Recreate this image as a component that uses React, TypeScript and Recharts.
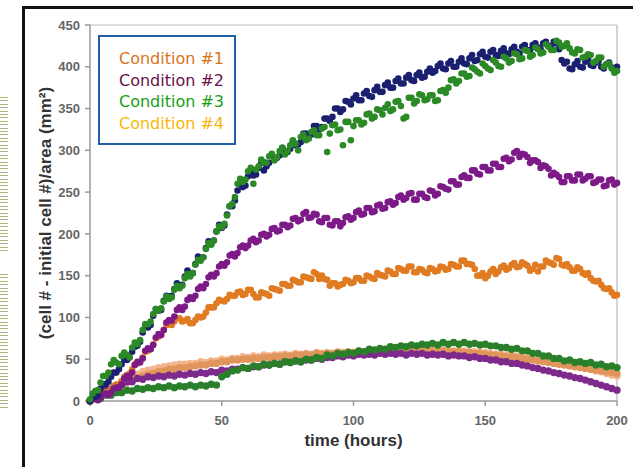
import React from 'react';
import {
  ScatterChart,
  Scatter,
  XAxis,
  YAxis,
  ReferenceLine,
} from 'recharts';

// sample times (hours): even readings and the interleaved odd readings
const HOURS = [
  0, 2, 4, 6, 8, 10, 12, 14, 16, 18,
  20, 22, 24, 26, 28, 30, 32, 34, 36, 38,
  40, 42, 44, 46, 48, 50, 52, 54, 56, 58,
  60, 62, 64, 66, 68, 70, 72, 74, 76, 78,
  80, 82, 84, 86, 88, 90, 92, 94, 96, 98,
  100, 102, 104, 106, 108, 110, 112, 114, 116, 118,
  120, 122, 124, 126, 128, 130, 132, 134, 136, 138,
  140, 142, 144, 146, 148, 150, 152, 154, 156, 158,
  160, 162, 164, 166, 168, 170, 172, 174, 176, 178,
  180, 182, 184, 186, 188, 190, 192, 194, 196, 198,
  200,
];

const HOURS_ODD = [
  1, 3, 5, 7, 9, 11, 13, 15, 17, 19,
  21, 23, 25, 27, 29, 31, 33, 35, 37, 39,
  41, 43, 45, 47, 49, 51, 53, 55, 57, 59,
  61, 63, 65, 67, 69, 71, 73, 75, 77, 79,
  81, 83, 85, 87, 89, 91, 93, 95, 97, 99,
  101, 103, 105, 107, 109, 111, 113, 115, 117, 119,
  121, 123, 125, 127, 129, 131, 133, 135, 137, 139,
  141, 143, 145, 147, 149, 151, 153, 155, 157, 159,
  161, 163, 165, 167, 169, 171, 173, 175, 177, 179,
  181, 183, 185, 187, 189, 191, 193, 195, 197, 199,
];

// upper group, even hours
const BLUE_HIGH = [
  0, 5, 15, 20, 29, 34, 44, 49, 59, 66,
  82, 88, 102, 108, 120, 123, 134, 138, 149, 152,
  164, 170, 183, 188, 203, 207, 223, 233, 252, 256,
  269, 270, 279, 276, 285, 290, 294, 299, 302, 306,
  310, 320, 319, 329, 328, 338, 340, 350, 349, 358,
  362, 360, 368, 365, 372, 370, 378, 375, 383, 380,
  387, 384, 390, 387, 394, 393, 401, 398, 404, 400,
  406, 404, 410, 407, 415, 412, 418, 414, 419, 416,
  421, 418, 424, 420, 426, 423, 428, 425, 430, 421,
  404, 398, 403, 400, 406, 402, 405, 400, 403, 399,
  400,
];

const GREEN_HIGH = [
  2, 12, 22, 30, 44, 46, 54, 55, 64, 68,
  85, 92, 104, 108, 119, 122, 133, 135, 147, 149,
  163, 168, 182, 187, 203, 208, 222, 236, 260, 262,
  275, 260, 281, 286, 293, 288, 299, 295, 306, 308,
  316, 312, 322, 318, 326, 298, 330, 324, 306, 334,
  329, 336, 333, 344, 340, 348, 351, 347, 358, 353,
  340, 363, 359, 366, 361, 366, 360, 372, 375, 385,
  383, 392, 389, 397, 392, 401, 396, 405, 400, 410,
  407, 415, 410, 419, 414, 421, 417, 424, 420, 429,
  425, 422, 416, 420, 412, 414, 407, 411, 403, 398,
  395,
];

const PURPLE_HIGH = [
  0, 3, 4, 9, 10, 16, 20, 30, 34, 47,
  51, 63, 67, 80, 85, 97, 101, 112, 113, 124,
  126, 137, 140, 151, 153, 164, 166, 176, 177, 186,
  186, 194, 192, 200, 199, 207, 204, 211, 210, 219,
  217, 226, 220, 223, 214, 219, 210, 215, 213, 221,
  219, 228, 224, 231, 227, 235, 231, 239, 237, 246,
  243, 249, 241, 248, 243, 251, 248, 256, 253, 263,
  259, 270, 267, 276, 271, 280, 276, 284, 280, 291,
  289, 299, 296, 292, 288, 286, 282, 278, 273, 268,
  262, 269, 264, 271, 266, 269, 262, 265, 258, 265,
  261,
];

const ORANGE_HIGH = [
  0, 3, 6, 10, 14, 19, 24, 31, 38, 45,
  52, 60, 68, 77, 85, 92, 95, 99, 96, 93,
  97, 100, 106, 112, 117, 120, 122, 126, 130, 127,
  133, 128, 124, 129, 126, 134, 132, 140, 138, 144,
  142, 148, 146, 152, 150, 145, 141, 137, 140, 144,
  142, 147, 144, 149, 146, 151, 149, 155, 152, 158,
  156, 161, 154, 157, 153, 158, 156, 160, 158, 163,
  161, 168, 164, 158, 150, 147, 155, 152, 160, 157,
  163, 160, 166, 162, 158, 155, 161, 166, 163, 170,
  162, 160, 156, 158, 151, 147, 143, 139, 134, 130,
  127,
];

// upper group, odd hours
const BLUE_HIGH_ODD = [
  4, 7, 20, 23, 34, 38, 50, 52, 65, 71,
  90, 91, 110, 109, 126, 126, 141, 139, 156, 153,
  173, 172, 191, 192, 211, 210, 233, 240, 259, 258,
  274, 271, 285, 281, 294, 291, 303, 298, 311, 307,
  320, 316, 329, 325, 338, 335, 350, 346, 359, 355,
  366, 360, 371, 364, 376, 370, 381, 375, 386, 380,
  390, 383, 393, 388, 398, 395, 404, 397, 407, 400,
  410, 403, 414, 408, 418, 411, 420, 413, 422, 415,
  424, 416, 426, 420, 428, 421, 430, 423, 428, 408,
  406, 397, 407, 399, 409, 401, 407, 398, 405, 396,
];

const GREEN_HIGH_ODD = [
  9, 13, 30, 34, 49, 44, 58, 52, 70, 73,
  92, 95, 110, 111, 125, 124, 138, 138, 152, 153,
  169, 172, 189, 192, 209, 212, 233, 244, 266, 265,
  279, 277, 289, 285, 296, 292, 303, 299, 312, 300,
  319, 314, 324, 318, 328, 320, 331, 325, 334, 312,
  336, 331, 343, 338, 349, 343, 355, 349, 359, 338,
  363, 356, 367, 360, 366, 359, 371, 369, 384, 380,
  392, 388, 399, 394, 404, 398, 408, 401, 412, 405,
  416, 409, 420, 412, 423, 416, 427, 420, 431, 424,
  428, 417, 421, 411, 415, 405, 411, 400, 404, 393,
];

const PURPLE_HIGH_ODD = [
  2, 1, 8, 7, 15, 16, 27, 29, 43, 46,
  60, 62, 76, 79, 94, 96, 109, 109, 121, 122,
  134, 135, 148, 149, 161, 162, 174, 173, 184, 183,
  192, 190, 199, 197, 206, 203, 211, 208, 218, 215,
  224, 219, 224, 215, 219, 211, 215, 209, 220, 217,
  226, 223, 231, 226, 234, 230, 238, 235, 244, 241,
  248, 241, 248, 244, 252, 246, 257, 254, 263, 259,
  268, 267, 276, 272, 280, 276, 284, 280, 290, 287,
  297, 292, 295, 285, 288, 279, 281, 270, 271, 262,
  269, 264, 271, 264, 269, 261, 265, 257, 264, 259,
];

const ORANGE_HIGH_ODD = [
  2, 3, 10, 11, 18, 20, 29, 33, 44, 47,
  59, 62, 75, 79, 91, 91, 99, 95, 98, 93,
  101, 101, 112, 112, 121, 119, 127, 126, 131, 128,
  133, 124, 130, 128, 135, 133, 140, 138, 145, 142,
  149, 147, 154, 146, 146, 138, 141, 139, 145, 141,
  147, 144, 150, 147, 153, 150, 156, 152, 159, 156,
  161, 154, 158, 154, 159, 155, 161, 157, 164, 161,
  168, 164, 163, 150, 153, 150, 158, 155, 162, 159,
  165, 161, 164, 156, 163, 161, 168, 165, 171, 163,
  164, 156, 160, 153, 153, 144, 144, 135, 135, 126,
];

// lower group
const GREEN_LOW = [
  0, 3, 3, 7, 7, 10, 10, 13, 12, 15,
  14, 16, 15, 17, 16, 18, 16, 18, 17, 19,
  17, 19, 18, 20, 19, 29, 32, 36, 37, 40,
  39, 42, 41, 44, 43, 45, 44, 47, 46, 48,
  47, 50, 49, 52, 51, 55, 54, 57, 56, 58,
  57, 60, 59, 62, 61, 63, 62, 65, 64, 66,
  65, 67, 66, 68, 67, 69, 67, 70, 68, 70,
  68, 70, 68, 69, 67, 68, 66, 66, 64, 64,
  62, 63, 60, 60, 57, 57, 54, 54, 51, 51,
  48, 49, 46, 47, 45, 46, 43, 44, 41, 42,
  40,
];

const PURPLE_LOW = [
  0, 5, 8, 13, 14, 19, 19, 23, 23, 27,
  26, 29, 28, 30, 29, 31, 30, 32, 31, 33,
  32, 34, 33, 35, 34, 37, 36, 38, 38, 40,
  39, 41, 41, 43, 43, 45, 44, 47, 46, 48,
  47, 49, 49, 51, 50, 52, 52, 54, 53, 55,
  54, 56, 55, 56, 55, 57, 56, 57, 56, 57,
  55, 57, 56, 57, 55, 56, 55, 56, 54, 55,
  54, 54, 52, 53, 51, 51, 49, 49, 47, 47,
  45, 45, 43, 42, 40, 39, 37, 36, 34, 33,
  31, 30, 28, 27, 25, 23, 21, 19, 17, 15,
  13,
];

const PEACH_LOW = [
  0, 4, 8, 11, 14, 18, 21, 25, 28, 32,
  35, 37, 38, 40, 41, 42, 43, 44, 44, 45,
  45, 47, 46, 48, 48, 50, 49, 51, 51, 53,
  52, 54, 53, 55, 54, 55, 55, 56, 55, 57,
  56, 57, 56, 58, 57, 58, 57, 59, 58, 59,
  58, 60, 59, 60, 59, 61, 60, 61, 60, 61,
  60, 61, 60, 61, 60, 61, 60, 61, 60, 60,
  60, 60, 59, 59, 58, 58, 57, 56, 56, 55,
  55, 54, 53, 52, 51, 50, 49, 48, 47, 46,
  45, 44, 42, 41, 39, 38, 36, 35, 33, 31,
  30,
];

const ORANGE_LOW = [
  0, 3, 7, 10, 13, 16, 19, 22, 25, 28,
  30, 32, 33, 35, 36, 38, 38, 40, 40, 41,
  42, 43, 43, 45, 45, 47, 47, 49, 49, 50,
  50, 51, 51, 52, 52, 53, 53, 54, 54, 55,
  55, 56, 55, 57, 56, 57, 57, 58, 57, 58,
  58, 59, 58, 59, 59, 60, 59, 60, 59, 60,
  60, 60, 59, 60, 59, 60, 59, 60, 59, 59,
  59, 58, 58, 57, 57, 56, 55, 55, 54, 53,
  53, 52, 51, 50, 49, 48, 47, 46, 45, 44,
  43, 42, 41, 40, 39, 38, 37, 36, 35, 34,
  33,
];

const X_TICKS = [0, 50, 100, 150, 200];
const Y_TICKS = [0, 50, 100, 150, 200, 250, 300, 350, 400, 450];

const CONDITIONS = [
  { name: 'Condition #1', color: '#d9741a' },
  { name: 'Condition #2', color: '#6b1048' },
  { name: 'Condition #3', color: '#16a016' },
  { name: 'Condition #4', color: '#f7b60a' },
];

const toPoints = (hours: number[], values: number[]) =>
  hours.map((t, i) => ({ t, v: values[i] }));

const dot = (color: string, r: number) => (props: any) => {
  if (props.cx == null || props.cy == null) return <g />;
  return <circle cx={props.cx} cy={props.cy} r={r} fill={color} />;
};

const merge = (even: number[], odd: number[]) => [
  ...toPoints(HOURS, even),
  ...toPoints(HOURS_ODD, odd),
];

const SERIES = [
  { key: 'peachLow', data: toPoints(HOURS, PEACH_LOW), color: '#f3b48c', r: 3.7 },
  { key: 'orangeLow', data: toPoints(HOURS, ORANGE_LOW), color: '#e0955a', r: 3.7 },
  { key: 'purpleLow', data: toPoints(HOURS, PURPLE_LOW), color: '#7e2a8c', r: 3.7 },
  { key: 'greenLow', data: toPoints(HOURS, GREEN_LOW), color: '#2a7f2a', r: 3.7 },
  { key: 'orangeHigh', data: merge(ORANGE_HIGH, ORANGE_HIGH_ODD), color: '#e07b22', r: 3.3 },
  { key: 'purpleHigh', data: merge(PURPLE_HIGH, PURPLE_HIGH_ODD), color: '#7d1a88', r: 3.3 },
  { key: 'blueHigh', data: merge(BLUE_HIGH, BLUE_HIGH_ODD), color: '#1b1f70', r: 3.3 },
  { key: 'greenHigh', data: merge(GREEN_HIGH, GREEN_HIGH_ODD), color: '#2b8a26', r: 3.3 },
];

const tickStyle = {
  fontFamily: 'Liberation Sans, Arial, sans-serif',
  fontSize: 13,
  fontWeight: 'bold' as const,
  fill: '#666',
};

const Stripes = ({ top, height }: { top: number; height: number }) => (
  <div
    style={{
      position: 'absolute',
      left: 0,
      top,
      width: 8,
      height,
      background:
        'repeating-linear-gradient(to bottom, #a9bb7c 0px, #a9bb7c 1px, transparent 1px, transparent 3.4px)',
    }}
  />
);

const App: React.FC = () => {
  return (
    <div
      style={{
        position: 'fixed',
        left: 0,
        top: 0,
        width: 633,
        height: 467,
        background: '#fff',
        overflow: 'hidden',
      }}
    >
      <Stripes top={97} height={156} />
      <Stripes top={274} height={136} />
      {/* black frame of the pasted figure */}
      <div style={{ position: 'absolute', left: 22, top: 6, width: 611, height: 3, background: '#111' }} />
      <div style={{ position: 'absolute', left: 22, top: 6, width: 3, height: 461, background: '#111' }} />

      <div style={{ position: 'absolute', left: 0, top: 0 }}>
        <ScatterChart
          width={633}
          height={467}
          margin={{ top: 25, right: 16, bottom: 36, left: 0 }}
        >
          <ReferenceLine y={450} stroke="#dcdcdc" strokeWidth={2} />
          <ReferenceLine x={200} stroke="#c4c4c4" strokeWidth={1.5} />
          <XAxis
            type="number"
            dataKey="t"
            domain={[0, 200]}
            ticks={X_TICKS}
            height={30}
            tickSize={5}
            tickMargin={10}
            stroke="#9a9a9a"
            strokeWidth={1.5}
            tick={tickStyle}
            label={{
              value: 'time (hours)',
              position: 'bottom',
              offset: 3,
              style: {
                fontFamily: 'Liberation Sans, Arial, sans-serif',
                fontSize: 17,
                fontWeight: 'bold',
                fill: '#333',
              },
            }}
          />
          <YAxis
            type="number"
            dataKey="v"
            domain={[0, 450]}
            ticks={Y_TICKS}
            width={90}
            tickSize={5}
            tickMargin={5}
            stroke="#9a9a9a"
            strokeWidth={1.5}
            tick={tickStyle}
            label={{
              value: '(cell # - initial cell #)/area (mm²)',
              angle: -90,
              position: 'center',
              style: {
                fontFamily: 'Liberation Sans, Arial, sans-serif',
                fontSize: 17,
                fontWeight: 'bold',
                fill: '#333',
                textAnchor: 'middle',
              },
            }}
          />
          {SERIES.map((s) => (
            <Scatter
              key={s.key}
              data={s.data}
              shape={dot(s.color, s.r)}
              isAnimationActive={false}
            />
          ))}
        </ScatterChart>
      </div>

      {/* legend box */}
      <div
        style={{
          position: 'absolute',
          left: 98,
          top: 35,
          width: 134,
          height: 106,
          border: '2.5px solid #1f5fa8',
          background: '#fff',
          boxSizing: 'content-box',
        }}
      >
        <div style={{ position: 'absolute', left: 19, top: 11, whiteSpace: 'nowrap' }}>
          {CONDITIONS.map((c) => (
            <div
              key={c.name}
              style={{
                color: c.color,
                fontFamily: 'DejaVu Sans, Verdana, sans-serif',
                fontSize: 16,
                lineHeight: '21.7px',
              }}
            >
              {c.name}
            </div>
          ))}
        </div>
      </div>
    </div>
  );
};

export default App;
